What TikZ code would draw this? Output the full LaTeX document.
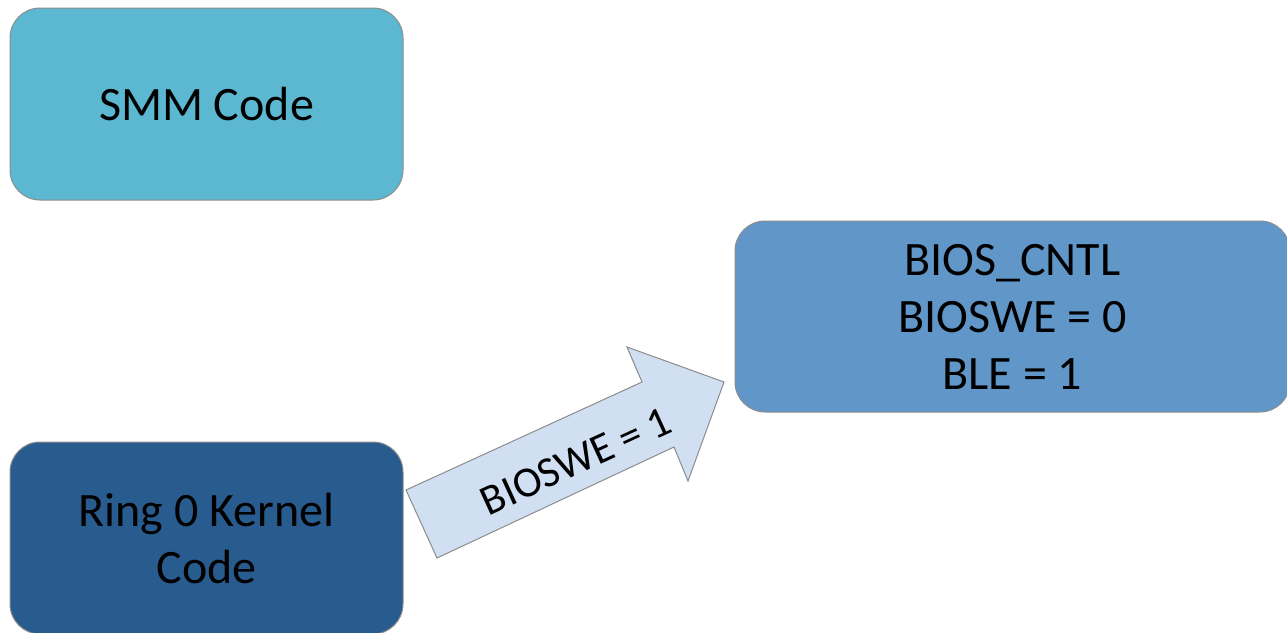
\documentclass[tikz,border=0pt]{standalone}
\usepackage{fontspec}
\setmainfont{Carlito}
\definecolor{smmfill}{RGB}{91,184,208}
\definecolor{kernfill}{RGB}{40,92,143}
\definecolor{biosfill}{RGB}{97,150,200}
\definecolor{arrowfill}{RGB}{208,224,242}
\definecolor{boxedge}{RGB}{140,140,140}
\tikzset{
  regbox/.style={draw=boxedge, line width=1pt, rounded corners=30pt,
    minimum width=393pt, minimum height=192pt, align=center, inner sep=0pt,
    font=\fontsize{48}{57}\selectfont},
  blockarrow/.style={draw=boxedge, line width=1pt, fill=arrowfill, line join=miter}
}
\begin{document}
\begin{tikzpicture}[x=1pt,y=-1pt]
\useasboundingbox (0,0) rectangle (1287,632);

\node[regbox, fill=smmfill] (smm) at (206.5,104) {SMM Code};
\node[regbox, fill=kernfill] (kernel) at (206.5,538) {Ring 0 Kernel\\Code};
\node[regbox, fill=biosfill, minimum width=555pt, minimum height=191pt] (bioscntl) at (1012.5,316.5) {BIOS\_CNTL\\BIOSWE = 0\\BLE = 1};

% write-enable arrow
\draw[blockarrow] (406,490) -- (642,382) -- (627,347) -- (724,382)
  -- (688,481) -- (674,447) -- (437,558) -- cycle;
\node[rotate=24.6, font=\fontsize{43}{50}\selectfont] (setwe) at (576,461) {BIOSWE = 1};
\end{tikzpicture}
\end{document}
